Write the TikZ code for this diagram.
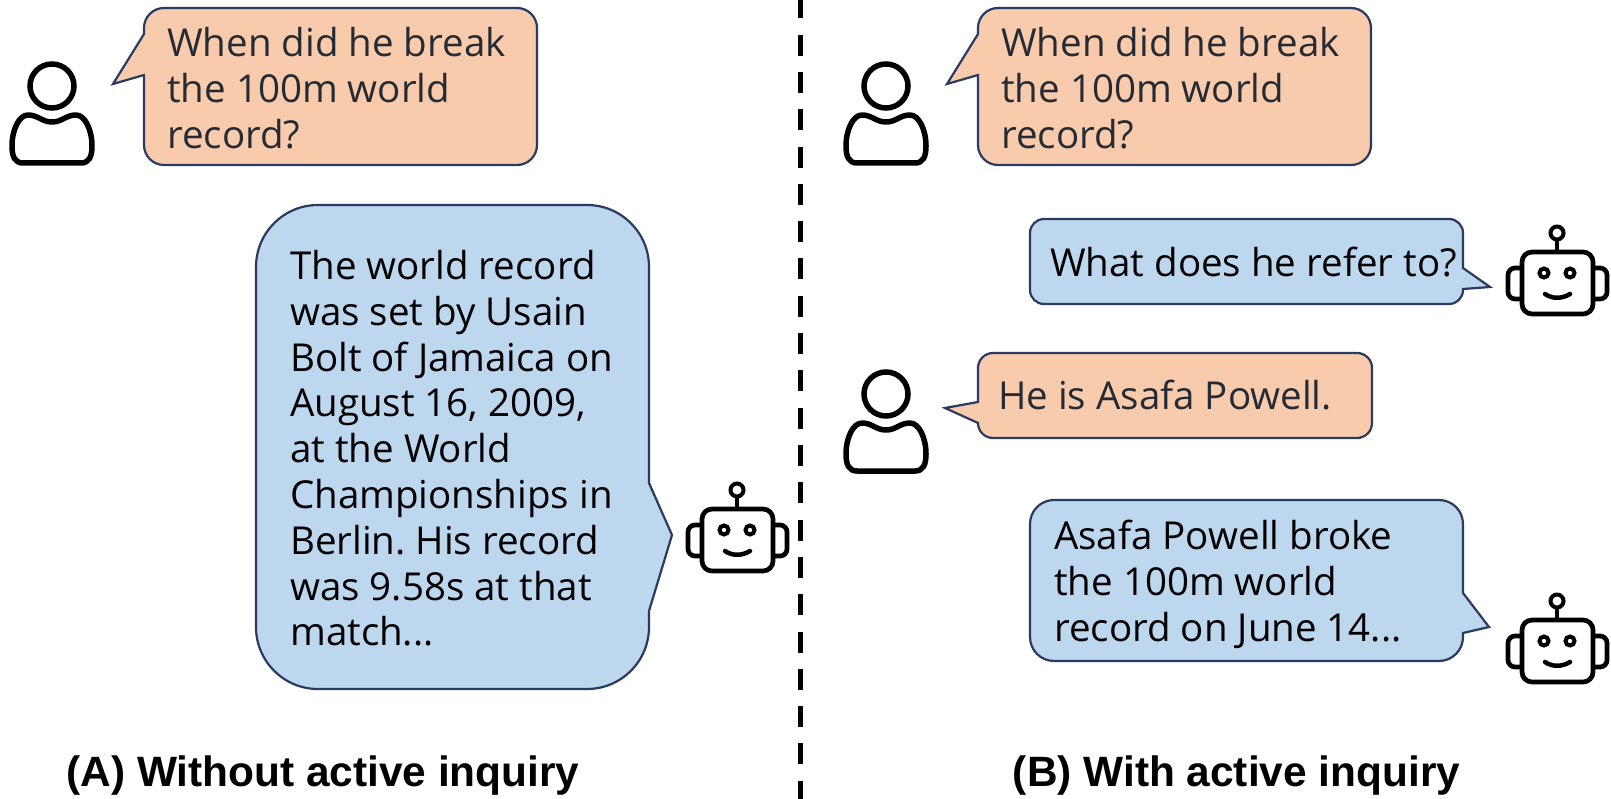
\documentclass[tikz,border=0pt]{standalone}
\usepackage{fontspec}
\setmainfont{Open Sans}
\newfontfamily\labelfont{Liberation Sans}
\definecolor{orangefill}{HTML}{F8CBAD}
\definecolor{bluefill}{HTML}{BDD7EE}
\definecolor{bubbleline}{HTML}{2A3B62}
\definecolor{orangetext}{HTML}{262B33}
\tikzset{
  orangebubble/.style={draw=bubbleline,fill=orangefill,line width=2.2pt,line join=miter},
  bluebubble/.style={draw=bubbleline,fill=bluefill,line width=2.2pt,line join=miter},
  bubbletext/.style={anchor=north west,inner sep=0pt,align=left,font=\fontsize{38.5}{45.8}\selectfont\frenchspacing},
  paneltitle/.style={anchor=base,inner sep=0pt,font=\labelfont\bfseries\fontsize{42.4}{48}\selectfont},
  divider/.style={line width=5pt,black,dash pattern=on 21pt off 16.3pt},
  person/.pic={
    \draw[line width=5.5pt] (0,0) circle (22);
    \draw[line width=5.5pt,line join=round] (0,36) .. controls (-10,36) and (-14,29) .. (-24,29)
      .. controls (-33,29) and (-40,44) .. (-40,60) .. controls (-40,71) and (-37,77) .. (-29,77)
      -- (29,77) .. controls (37,77) and (40,71) .. (40,60) .. controls (40,44) and (33,29) .. (24,29)
      .. controls (14,29) and (10,36) .. (0,36) -- cycle;
  },
  robot/.pic={
    \draw[line width=4pt] (0,0) circle (6.5);
    \draw[line width=4pt] (0,6.5) -- (0,19);
    \draw[line width=4.7pt,rounded corners=10pt] (-35,19) rectangle (36,81);
    \draw[line width=4.7pt,rounded corners=7pt] (-35,35) -- (-49,35) -- (-49,66) -- (-35,66);
    \draw[line width=4.7pt,rounded corners=7pt] (36,35) -- (50,35) -- (50,66) -- (36,66);
    \draw[line width=4pt] (-13,40) circle (4.5);
    \draw[line width=4pt] (13,40) circle (4.5);
    \draw[line width=4.5pt,line cap=round] (-12,61) .. controls (-5,66) and (5,66) .. (13,61);
  }
}
\begin{document}
\begin{tikzpicture}[x=1pt,y=-1pt]
\useasboundingbox (0,0) rectangle (1611,799);
% divider
\coordinate (divtop) at (800,-2.6);
\coordinate (divbot) at (800,799);
\draw[divider] (divtop) -- (divbot);
% Panel A
\pic at (52,86) {person};
\draw[orangebubble] (113,84) -- (144,75) [rounded corners=20pt] -- (144,165) -- (537,165) -- (537,8) -- (144,8) [sharp corners] -- (144,34) -- cycle;
\node[bubbletext,text=orangetext] (q1) at (167,27.5) {When did he break\\the 100m world\\record?};
\draw[bluebubble] (672,535) -- (649,611) [rounded corners=62pt] -- (649,689) -- (256,689) -- (256,205) -- (649,205) [sharp corners] -- (649,483) -- cycle;
\node[bubbletext] (a1) at (290,250) {The world record\\was set by Usain\\Bolt of Jamaica on\\August 16, 2009,\\at the World\\Championships in\\Berlin. His record\\was 9.58s at that\\match...};
\pic at (737,490) {robot};
\node[paneltitle] (ta) at (323,786) {(A) Without active inquiry};
% Panel B
\pic at (886,86) {person};
\draw[orangebubble] (947,84) -- (978,75) [rounded corners=20pt] -- (978,165) -- (1371,165) -- (1371,8) -- (978,8) [sharp corners] -- (978,34) -- cycle;
\node[bubbletext,text=orangetext] (q2) at (1001,27.5) {When did he break\\the 100m world\\record?};
\draw[bluebubble] (1490,287) -- (1463,289) [rounded corners=14pt] -- (1463,304) -- (1030,304) -- (1030,219) -- (1463,219) [sharp corners] -- (1463,268) -- cycle;
\node[bubbletext] (q3) at (1050,247) {What does he refer to?};
\pic at (1557,233) {robot};
\pic at (886,394) {person};
\draw[orangebubble] (945,408) -- (978,423) [rounded corners=15pt] -- (978,438) -- (1372,438) -- (1372,353) -- (978,353) [sharp corners] -- (978,402) -- cycle;
\node[bubbletext,text=orangetext] (a2) at (998,380) {He is Asafa Powell.};
\draw[bluebubble] (1489,627) -- (1463,633) [rounded corners=24pt] -- (1463,661) -- (1030,661) -- (1030,500) -- (1463,500) [sharp corners] -- (1463,593) -- cycle;
\node[bubbletext] (a3) at (1054,520) {Asafa Powell broke\\the 100m world\\record on June 14...};
\pic at (1557,601) {robot};
\node[paneltitle] (tb) at (1236.5,786) {(B) With active inquiry};
\end{tikzpicture}
\end{document}
